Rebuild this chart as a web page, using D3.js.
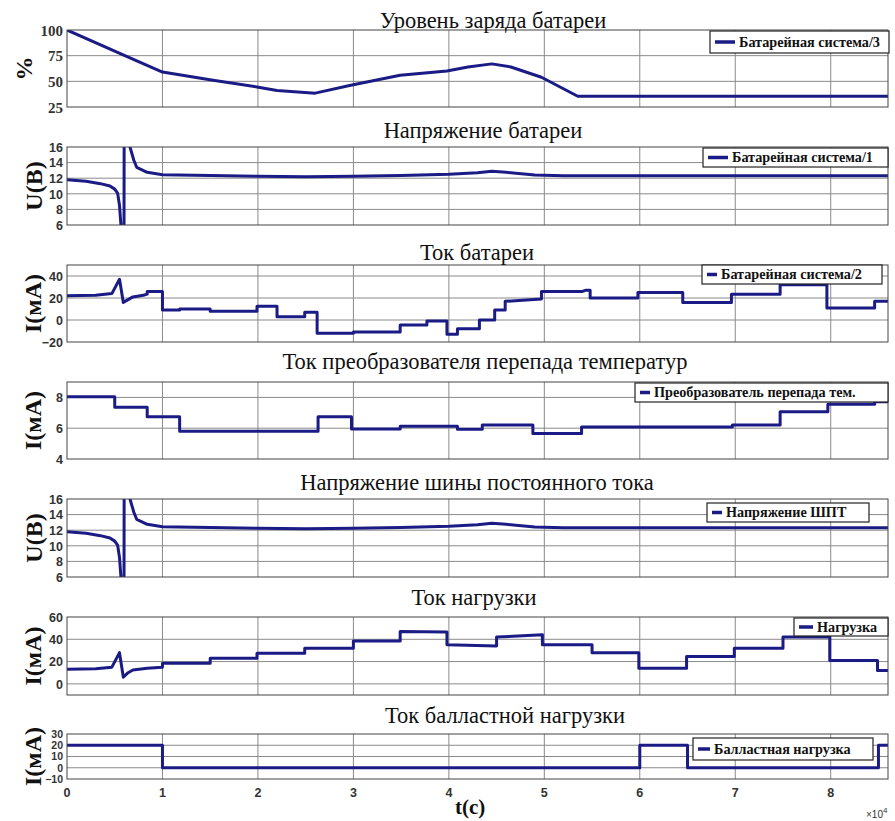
<!DOCTYPE html>
<html><head><meta charset="utf-8">
<script src="https://cdn.jsdelivr.net/npm/d3@7"></script>
<style>body{margin:0;background:#fff}</style>
</head><body>
<svg id="c" width="895" height="821"></svg>
<script>
// ---------- data (time in units of 10^4 s) ----------
const xTickValues = [0,1,2,3,4,5,6,7,8];
const xTickLabels = ["0","1","2","3","4","5","6","7","8"];

const socT = [0,0.63,1.0,1.53,1.99,2.2,2.6,2.96,3.49,3.98,4.2,4.45,4.65,4.97,5.35,8.6];
const socV = [100,74,59,51,44.5,41,38.5,46,56,60,64,67,64,54,35.5,35.5];

const battUT = [0,0.2,0.35,0.45,0.5,0.53,0.55,0.565,0.58,0.597,0.6,0.66,0.7,0.73,0.84,1.0,1.5,2,2.5,3,3.5,4,4.3,4.45,4.6,4.9,5.2,6,7,8,8.6];
const battUV = [11.8,11.6,11.3,11.0,10.6,10.1,8.5,6,3,3,30,16,14.3,13.4,12.75,12.45,12.35,12.25,12.2,12.25,12.35,12.5,12.7,12.9,12.75,12.4,12.3,12.3,12.3,12.3,12.3];

const battIT = [0,0.3,0.47,0.55,0.59,0.69,0.8,0.84,0.84,1.0,1.0,1.18,1.18,1.5,1.5,1.99,1.99,2.2,2.2,2.49,2.49,2.62,2.62,3.0,3.0,3.49,3.49,3.77,3.77,3.98,3.98,4.09,4.09,4.32,4.32,4.48,4.48,4.59,4.59,4.97,4.97,5.4,5.43,5.48,5.48,5.98,5.98,6.45,6.45,6.96,6.96,7.47,7.47,7.96,7.96,8.46,8.46,8.6];
const battIV = [22,22.5,24,37,16,21,22.5,23.5,26,26,9,9,10,10,8,8,12.5,12.5,3,3,7,7,-12,-12,-11,-11,-4.5,-4.5,-1,-1,-13,-13,-8,-8,0,0,9,9,17,19,26,26,27,27,20,20,25,25,16,16,23.5,23.5,32,32,11,11,17,17];

const convT = [0,0.5,0.84,1.18,2.63,2.98,3.49,4.09,4.35,4.88,5.39,6.97,7.47,7.97,8.46,8.6];
const convV = [8.05,7.36,6.74,5.81,6.74,5.94,6.13,5.93,6.2,5.65,6.07,6.2,7.07,7.55,7.72,7.72];

const busUT = battUT.slice();
const busUV = battUV.slice();

const loadT = [0,0.3,0.47,0.55,0.59,0.64,0.69,0.84,1.0,1.0,1.5,1.5,1.99,1.99,2.49,2.49,3.0,3.0,3.49,3.49,3.98,3.98,4.5,4.5,4.98,4.98,5.5,5.5,5.99,5.99,6.49,6.49,6.99,6.99,7.5,7.5,7.99,7.99,8.49,8.49,8.6];
const loadV = [13,13.5,15,28,6,10,12.5,14,15,18.5,18.5,23,23,27.5,27.5,32,32,38.5,38.5,47,46.5,35,34,42,44,35,35,28,28,14,14,24.5,24.5,32,32,42,42,21,21,12,12];

const ballT = [0,1,6,6.5,8.5,8.6];
const ballV = [20,0,20,0,20,20];

const titles = ["Уровень заряда батареи","Напряжение батареи","Ток батареи",
  "Ток преобразователя перепада температур","Напряжение шины постоянного тока",
  "Ток нагрузки","Ток балластной нагрузки"];
const yLabels = ["%","U(B)","I(мА)","I(мА)","U(B)","I(мА)","I(мА)"];
const legends = ["Батарейная система/3","Батарейная система/1","Батарейная система/2",
  "Преобразователь перепада тем.","Напряжение ШПТ","Нагрузка","Балластная нагрузка"];
const yDomains = [[25,100],[6,16],[-20,50],[4,9],[6,16],[-10,60],[-10,30]];
const yTicks = [[25,50,75,100],[6,8,10,12,14,16],[-20,0,20,40],[4,6,8],[6,8,10,12,14,16],[0,20,40,60],[-10,0,10,20,30]];
const seriesT = [socT,battUT,battIT,convT,busUT,loadT,ballT];
const seriesV = [socV,battUV,battIV,convV,busUV,loadV,ballV];
const stepped = [false,false,false,true,false,false,true];

// ---------- layout ----------
const L = 67, R = 888;
const tops =    [30,147,265,382,499,617,734];
const bottoms = [107,225,342,459,577,695,779];
const titleGap = [2,9,5,13,9,12,11];
const titleX = [493,483,477,485,477,474,505];
const yLabelX = [32,42,41,41,42,41,41];
// legend box: [left, right, top, bottom, sampleLen]
const legBox = [[710,889,31,53,20],[703,888,148,167,20],[702,882,265,284,10],
  [635,888,383,402,10],[707,869,503,522,10],[794,888,618,636,14],[693,873,738,760,12]];
const serif = "'Liberation Serif', 'Times New Roman', serif";
const sans = "'Liberation Sans', Arial, sans-serif";

const svg = d3.select("#c");
const x = d3.scaleLinear().domain([0,8.6]).range([L,R]);
const lineColor = "#1b1b86";

titles.forEach((t,i)=>{
  const y = d3.scaleLinear().domain(yDomains[i]).range([bottoms[i],tops[i]]);
  const g = svg.append("g");
  g.append("rect").attr("x",L).attr("y",tops[i]).attr("width",R-L).attr("height",bottoms[i]-tops[i]).attr("fill","#fff");
  // grid
  g.append("g").selectAll("line").data(xTickValues.filter(v=>v>0)).join("line")
    .attr("x1",d=>x(d)).attr("x2",d=>x(d)).attr("y1",tops[i]).attr("y2",bottoms[i])
    .attr("stroke","#8a8a8a").attr("stroke-width",1);
  g.append("g").selectAll("line").data(yTicks[i].filter(v=>v>yDomains[i][0]&&v<yDomains[i][1])).join("line")
    .attr("x1",L).attr("x2",R).attr("y1",d=>y(d)).attr("y2",d=>y(d))
    .attr("stroke","#8a8a8a").attr("stroke-width",1);
  // y axis labels
  const ax = d3.axisLeft(y).tickValues(yTicks[i]).tickFormat(d3.format("d")).tickSize(0).tickPadding(4);
  const ag = g.append("g").attr("transform",`translate(${L},0)`).call(ax);
  ag.select(".domain").remove();
  ag.selectAll("text")
    .attr("font-family", i===0 ? serif : sans)
    .attr("font-weight","bold").attr("font-size", i===0 ? 15 : (i===6 ? 10.5 : 12.5)).attr("fill","#333")
    .attr("dy", i===6 ? "0.33em" : "0.35em");
  // series
  const clipId = "clip"+i;
  svg.append("clipPath").attr("id",clipId).append("rect")
    .attr("x",L).attr("y",tops[i]).attr("width",R-L).attr("height",bottoms[i]-tops[i]);
  const pts = seriesT[i].map((tt,k)=>[tt,seriesV[i][k]]);
  const line = d3.line().x(d=>x(d[0])).y(d=>y(d[1]))
    .curve(stepped[i] ? d3.curveStepAfter : d3.curveLinear);
  g.append("path").attr("d",line(pts)).attr("fill","none")
    .attr("stroke",lineColor).attr("stroke-width",3).attr("stroke-linejoin","round")
    .attr("clip-path",`url(#${clipId})`);
  // frame
  g.append("rect").attr("x",L).attr("y",tops[i]).attr("width",R-L).attr("height",bottoms[i]-tops[i])
    .attr("fill","none").attr("stroke","#444").attr("stroke-width",1);
  // title
  g.append("text").attr("x",titleX[i]).attr("y",tops[i]-titleGap[i]).attr("text-anchor","middle")
    .attr("font-family",serif).attr("font-size",22.5).attr("fill","#111").text(t);
  // y label
  const yc = (tops[i]+bottoms[i])/2;
  g.append("text").attr("transform",`translate(${yLabelX[i]},${yc}) rotate(-90)`)
    .attr("text-anchor","middle").attr("font-family",serif)
    .attr("font-weight","bold").attr("font-size",24).attr("fill","#111").text(yLabels[i]);
  // legend
  const b = legBox[i];
  g.append("rect").attr("x",b[0]).attr("y",b[2]).attr("width",b[1]-b[0]).attr("height",b[3]-b[2])
    .attr("fill","#fff").attr("stroke","#222").attr("stroke-width",1.2);
  const ly = (b[2]+b[3])/2;
  g.append("line").attr("x1",b[0]+5).attr("x2",b[0]+5+b[4]).attr("y1",ly).attr("y2",ly)
    .attr("stroke",lineColor).attr("stroke-width",3.5);
  g.append("text").attr("x",b[0]+9+b[4]).attr("y",ly).attr("dy","0.35em")
    .attr("font-family",serif).attr("font-weight","bold")
    .attr("font-size",14.2).attr("fill","#111").text(legends[i]);
});

// bottom x axis labels
const xg = svg.append("g");
xg.selectAll("text").data(xTickValues).join("text")
  .attr("x",d=>x(d)).attr("y",797).attr("text-anchor","middle")
  .attr("font-family",sans).attr("font-weight","bold")
  .attr("font-size",12.5).attr("fill","#333").text((d,k)=>xTickLabels[k]);
svg.append("text").attr("x",455).attr("y",814)
  .attr("font-family",serif).attr("font-weight","bold")
  .attr("font-size",21).attr("fill","#111").text("t(c)");
const mult = svg.append("text").attr("x",866).attr("y",818)
  .attr("font-family",sans).attr("font-size",10).attr("fill","#333");
mult.append("tspan").text("×10");
mult.append("tspan").attr("dy",-5).attr("font-size",8).text("4");
</script>
</body></html>
